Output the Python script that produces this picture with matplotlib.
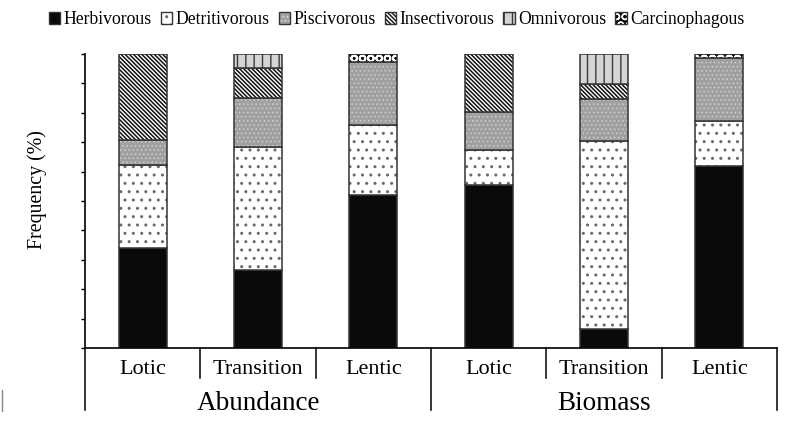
import matplotlib
matplotlib.use('Agg')
import matplotlib.pyplot as plt
import matplotlib.transforms as mtransforms
from matplotlib.patches import Patch
from matplotlib.lines import Line2D
import numpy as np

plt.rcParams['font.family'] = ['Liberation Serif', 'DejaVu Serif']

# Data (percent)
categories = ['Lotic', 'Transition', 'Lentic', 'Lotic', 'Transition', 'Lentic']
groups = ['Abundance', 'Biomass']
series_names = ['Herbivorous', 'Detritivorous', 'Piscivorous',
                'Insectivorous', 'Omnivorous', 'Carcinophagous']
herbivorous = [34.1, 26.6, 52.2, 55.3, 6.5, 61.9]
detritivorous = [28.3, 41.8, 23.5, 12.0, 63.8, 15.3]
piscivorous = [8.3, 16.8, 21.7, 13.0, 14.5, 21.5]
insectivorous = [29.3, 10.0, 0.0, 19.7, 5.0, 0.0]
omnivorous = [0.0, 4.8, 0.0, 0.0, 10.2, 0.0]
carcinophagous = [0.0, 0.0, 2.6, 0.0, 0.0, 1.3]

BACK = chr(92)  # backslash hatch
# face colour, hatch, hatch colour, hatch linewidth
styles = [
    ('#0a0a0a', None, '#0a0a0a', 1.0),
    ('#ffffff', '..', '#6a6a6a', 1.0),
    ('#a0a0a0', '....', '#d0d0d0', 0.6),
    ('#ffffff', BACK * 8, '#111111', 1.1),
    ('#d4d4d4', '||', '#3a3a3a', 1.0),
    ('#0a0a0a', 'OO', '#ffffff', 1.4),
]


def styled_patch(face, hatch, hcol, hlw):
    p = Patch(facecolor=face, hatch=hatch, edgecolor=hcol, linewidth=0)
    if hasattr(p, 'set_hatch_linewidth'):
        p.set_hatch_linewidth(hlw)
    return p


fig = plt.figure(figsize=(8, 4.29), dpi=100)
W, H = 800, 429
ax = fig.add_axes([85 / W, 1 - 348 / H, 692 / W, 294 / H])

x = np.arange(len(categories))
width = 0.415
edge = '#333333'
data = [herbivorous, detritivorous, piscivorous, insectivorous, omnivorous, carcinophagous]
bottom = np.zeros(len(categories))
for vals, (face, hatch, hcol, hlw) in zip(data, styles):
    vals = np.array(vals)
    m = vals > 0
    bars = ax.bar(x[m], vals[m], width, bottom=bottom[m], color=face,
                  hatch=hatch, edgecolor=hcol, linewidth=0)
    for b in bars:
        if hasattr(b, 'set_hatch_linewidth'):
            b.set_hatch_linewidth(hlw)
    ax.bar(x[m], vals[m], width, bottom=bottom[m], fill=False,
           edgecolor=edge, linewidth=1.1)
    bottom += vals

ax.set_xlim(-0.5, 5.5)
ax.set_ylim(0, 100)
ax.set_yticks(np.arange(0, 101, 10))
ax.set_yticklabels([])
ax.tick_params(axis='y', direction='out', length=3, width=1, color='black')
ax.set_xticks([])
for s in ['top', 'right']:
    ax.spines[s].set_visible(False)
ax.spines['left'].set_linewidth(1.2)
ax.spines['bottom'].set_linewidth(1.2)

# multi-level category axis
trans = mtransforms.blended_transform_factory(ax.transData, ax.transAxes)
short_y = -30 / 294
long_y = -62 / 294
for i in range(len(categories) + 1):
    xb = i - 0.5
    y1 = long_y if i % 3 == 0 else short_y
    ax.add_line(Line2D([xb, xb], [0, y1], transform=trans, color='black',
                       linewidth=1.1, clip_on=False))
for i, c in enumerate(categories):
    ax.text(i, -21 / 294, c, transform=trans, ha='center', va='center',
            fontsize=16)
for g, name in enumerate(groups):
    ax.text(3 * g + 1, -56 / 294, name, transform=trans, ha='center',
            va='center', fontsize=19.5)

fig.text(37 / W, 1 - 190 / H, 'Frequency (%)', rotation=90, ha='center',
         va='center', fontsize=14.3)

# small stray mark at the left edge
fig.add_artist(Line2D([2 / W, 2 / W], [1 - 390 / H, 1 - 411 / H],
                      color='#888888', linewidth=1.0))

handles = []
for face, hatch, hcol, hlw in styles:
    p = styled_patch(face, hatch, hcol, hlw)
    o = Patch(facecolor='none', edgecolor=edge, linewidth=1.0)
    handles.append((p, o))
fig.legend(handles, series_names, loc='center', bbox_to_anchor=(0.496, 1 - 20 / H),
           ncol=6, frameon=False, fontsize=12.7, handlelength=0.65,
           handleheight=0.65, handletextpad=0.2, columnspacing=0.5,
           borderaxespad=0, borderpad=0)

fig.savefig('out.png', dpi=100)
